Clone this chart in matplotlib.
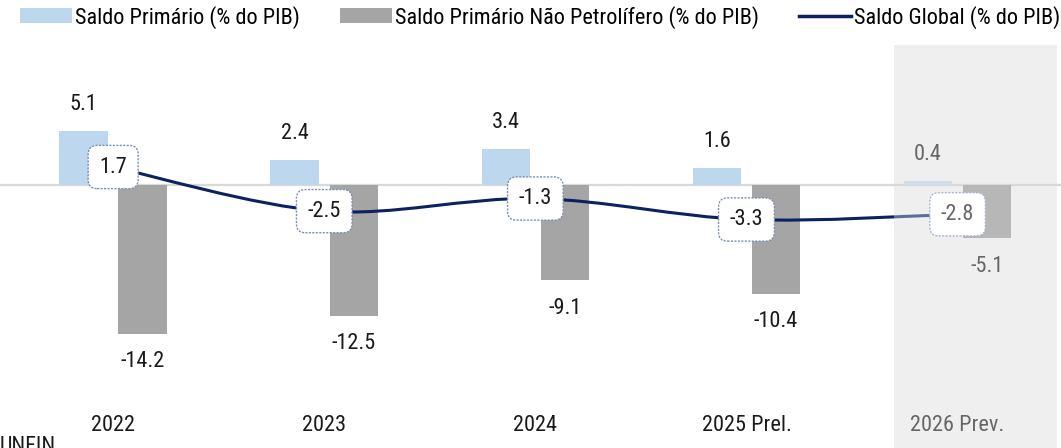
import numpy as np
import matplotlib.pyplot as plt
from matplotlib.path import Path
from matplotlib.patches import PathPatch, Patch, Rectangle
from matplotlib.lines import Line2D

#data
years = ['2022', '2023', '2024', '2025 Prel.', '2026 Prev.']
saldoPrimario = [5.1, 2.4, 3.4, 1.6, 0.4]
saldoNaoPetrolifero = [-14.2, -12.5, -9.1, -10.4, -5.1]
saldoGlobal = [1.7, -2.5, -1.3, -3.3, -2.8]

#colours
lightBlue = '#bdd7ee'
darkGray = '#a5a5a5'
navy = '#0b2160'
shade = '#efefef'

plt.rcParams['font.family'] = ['Roboto Condensed', 'DejaVu Sans']
plt.rcParams['font.size'] = 16

fig = plt.figure(figsize=(10.61, 4.48), dpi=100)
ax = fig.add_axes([0, 0, 1, 1])
ax.set_xlim(-0.536, 4.49)
ax.set_ylim(-25.05, 17.6)
ax.axis('off')

x = np.arange(len(years))
forecastStart = 3.697

#grey background behind the forecast year
ax.add_patch(Rectangle((forecastStart, -25.05), 4.469 - forecastStart, 25.05 + 13.3,
                       facecolor=shade, edgecolor='none', zorder=0))

#zero line
ax.axhline(0, color='#d9d9d9', lw=1.6, zorder=1)

barW = 0.23
off = 0.14
for i in range(len(years)):
    last = i == len(years) - 1
    c1 = '#cfdeec' if last else lightBlue
    c2 = '#b7b7b7' if last else darkGray
    txt = '#666666' if last else '#1a1a1a'
    ax.bar(x[i] - off, saldoPrimario[i], barW, color=c1, zorder=2)
    ax.bar(x[i] + off, saldoNaoPetrolifero[i], barW, color=c2, zorder=2)
    ax.annotate(f'{saldoPrimario[i]:.1f}', (x[i] - off, saldoPrimario[i]), xytext=(0, 19),
                textcoords='offset points', ha='center', va='center', color=txt)
    ax.annotate(f'{saldoNaoPetrolifero[i]:.1f}', (x[i] + off, saldoNaoPetrolifero[i]), xytext=(0, -20),
                textcoords='offset points', ha='center', va='center', color=txt)
    #category label
    ax.text(x[i], -22.9, years[i], ha='center', va='center', color=txt)

#smoothed line (catmull-rom -> bezier) like Excel smoothing
pts = np.column_stack([x, saldoGlobal]).astype(float)
verts = [tuple(pts[0])]
codes = [Path.MOVETO]
for i in range(len(pts) - 1):
    p0 = pts[max(i - 1, 0)]
    p1 = pts[i]
    p2 = pts[i + 1]
    p3 = pts[min(i + 2, len(pts) - 1)]
    c1 = p1 + (p2 - p0) / 6
    c2 = p2 - (p3 - p1) / 6
    verts += [tuple(c1), tuple(c2), tuple(p2)]
    codes += [Path.CURVE4] * 3
path = Path(verts, codes)

clipA = Rectangle((-1, -30), forecastStart + 1, 60, transform=ax.transData)
clipB = Rectangle((forecastStart, -30), 2, 60, transform=ax.transData)
pA = PathPatch(path, facecolor='none', edgecolor=navy, lw=2.2, zorder=3, capstyle='round')
pB = PathPatch(path, facecolor='none', edgecolor='#5b6f9e', lw=2.2, zorder=3)
ax.add_patch(pA)
ax.add_patch(pB)
pA.set_clip_path(clipA)
pB.set_clip_path(clipB)

for i in range(len(years)):
    last = i == len(years) - 1
    ax.text(x[i], saldoGlobal[i], f'{saldoGlobal[i]:.1f}', ha='center', va='center',
            color='#666666' if last else '#1a1a1a', zorder=5,
            bbox=dict(boxstyle='round,pad=0.5,rounding_size=0.4', facecolor='white',
                      edgecolor='#a9b6cf' if last else '#7d8db0', linestyle=(0, (1.5, 1)), lw=1))

#legend
handles = [Patch(facecolor=lightBlue, edgecolor='none'),
           Patch(facecolor=darkGray, edgecolor='none'),
           Line2D([], [], color=navy, lw=2.5)]
labels = ['Saldo Primário (% do PIB)', 'Saldo Primário Não Petrolífero (% do PIB)', 'Saldo Global (% do PIB)']
fig.legend(handles, labels, loc='upper left', bbox_to_anchor=(0.0104, 1.007), ncol=3, frameon=False,
           handlelength=2.35, handleheight=0.65, handletextpad=0.13, columnspacing=1.8, borderaxespad=0)

fig.text(0.0, 0.027, 'UNFIN', ha='left', va='top', color='#1a1a1a')

fig.savefig('out.png', dpi=100)
